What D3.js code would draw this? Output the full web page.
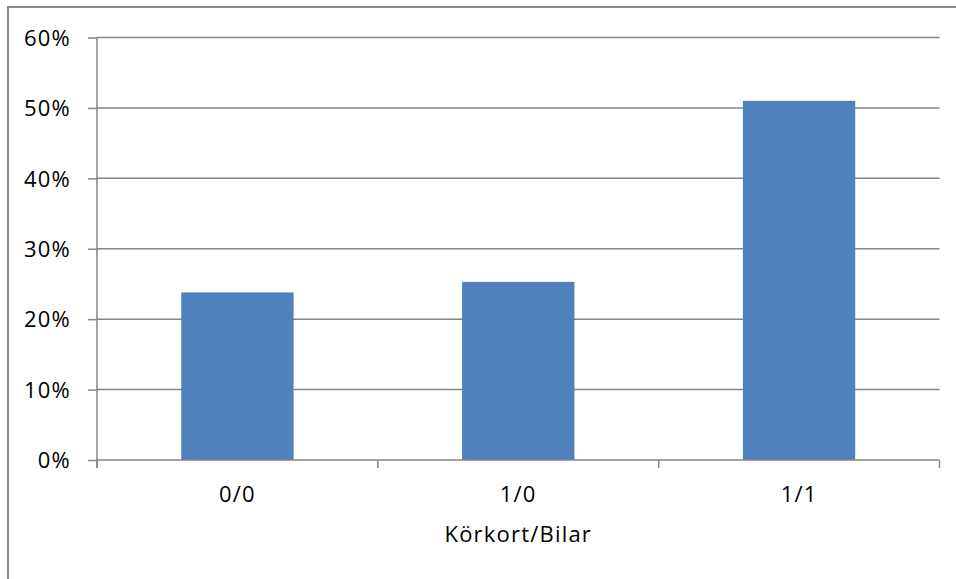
<!DOCTYPE html>
<html>
<head>
<meta charset="utf-8">
<script src="https://cdn.jsdelivr.net/npm/d3@7"></script>
<style>
  html, body { margin: 0; padding: 0; background: #fff; }
  svg { display: block; }
  text { font-family: "Open Sans", sans-serif; font-size: 22px; fill: #000; letter-spacing: 1.2px; }
</style>
</head>
<body>
<svg id="chart" width="956" height="579"></svg>
<script>
// Share of households by driving licence / car ownership
const categories = ["0/0", "1/0", "1/1"];
const shares = [0.238, 0.253, 0.510];
const yTicks = [0, 0.1, 0.2, 0.3, 0.4, 0.5, 0.6];
const xTitle = "Körkort/Bilar";

const svg = d3.select("#chart");
const plot = { left: 97, right: 939.5, top: 37.5, bottom: 460 };
const gridColor = "#868686";

// chart frame
svg.append("rect")
  .attr("x", 8).attr("y", 7)
  .attr("width", 1000).attr("height", 700)
  .attr("fill", "none")
  .attr("stroke", "#8a8a8a")
  .attr("stroke-width", 2);

const x = d3.scaleBand()
  .domain(categories)
  .range([plot.left, plot.right])
  .paddingInner(0.6)
  .paddingOuter(0.3);

const y = d3.scaleLinear()
  .domain([0, 0.6])
  .range([plot.bottom, plot.top]);

// horizontal gridlines
svg.append("g")
  .selectAll("line")
  .data(yTicks.filter(d => d > 0))
  .join("line")
  .attr("x1", plot.left).attr("x2", plot.right)
  .attr("y1", d => y(d)).attr("y2", d => y(d))
  .attr("stroke", gridColor)
  .attr("stroke-width", 1.5);

// bars
svg.append("g")
  .selectAll("rect")
  .data(categories.map((c, i) => ({ c, v: shares[i] })))
  .join("rect")
  .attr("x", d => x(d.c))
  .attr("width", x.bandwidth())
  .attr("y", d => y(d.v))
  .attr("height", d => y(0) - y(d.v))
  .attr("fill", "#4f81bd");

// y axis
const yAxis = d3.axisLeft(y)
  .tickValues(yTicks)
  .tickFormat(d3.format(".0%"))
  .tickSize(9)
  .tickPadding(17);
const gy = svg.append("g")
  .attr("transform", `translate(${plot.left},0)`)
  .call(yAxis);
gy.select(".domain").remove();
gy.append("line")
  .attr("x1", 0).attr("x2", 0)
  .attr("y1", plot.top).attr("y2", plot.bottom + 8)
  .attr("stroke", gridColor).attr("stroke-width", 1.5);
gy.selectAll(".tick line").attr("stroke", gridColor).attr("stroke-width", 1.5);
gy.selectAll(".tick text")
  .style("font-family", "'Open Sans', sans-serif")
  .style("font-size", "22px")
  .attr("fill", "#000")
  .attr("dy", "0.35em");

// x axis with ticks at category boundaries
const gx = svg.append("g");
gx.append("line")
  .attr("x1", plot.left).attr("x2", plot.right)
  .attr("y1", plot.bottom).attr("y2", plot.bottom)
  .attr("stroke", gridColor).attr("stroke-width", 1.5);
const step = x.step();
const bounds = [plot.left].concat(categories.map(c => x(c) + x.bandwidth() + step * x.paddingInner() / 2));
bounds[bounds.length - 1] = plot.right;
gx.selectAll("line.tk")
  .data(bounds)
  .join("line")
  .attr("class", "tk")
  .attr("x1", d => d).attr("x2", d => d)
  .attr("y1", plot.bottom).attr("y2", plot.bottom + 8)
  .attr("stroke", gridColor).attr("stroke-width", 1.5);
gx.selectAll("text")
  .data(categories)
  .join("text")
  .attr("x", d => x(d) + x.bandwidth() / 2)
  .attr("y", plot.bottom + 42)
  .attr("text-anchor", "middle")
  .text(d => d);

// axis title
svg.append("text")
  .attr("x", (plot.left + plot.right) / 2)
  .attr("y", 542)
  .attr("text-anchor", "middle")
  .text(xTitle);
</script>
</body>
</html>
